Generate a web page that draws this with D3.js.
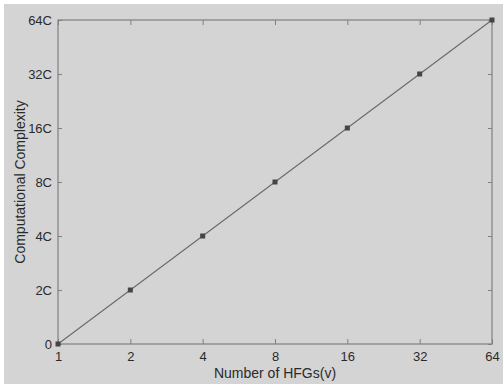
<!DOCTYPE html>
<html>
<head>
<meta charset="utf-8">
<script src="https://cdn.jsdelivr.net/npm/d3@7"></script>
<style>
  body { margin: 0; background: #fff; }
  text { font-family: "Liberation Sans", Arial, sans-serif; fill: #2a2a2a; }
</style>
</head>
<body>
<div id="chart"></div>
<script>
// data
const hfgs = [1, 2, 4, 8, 16, 32, 64];
const complexity = [0, 2, 4, 8, 16, 32, 64]; // multiples of C
const xTicks = [1, 2, 4, 8, 16, 32, 64];
const yTicks = [0, 2, 4, 8, 16, 32, 64];
const yTickLabels = ["0", "2C", "4C", "8C", "16C", "32C", "64C"];

const width = 503, height = 384;
const margin = { top: 20, right: 11, bottom: 40, left: 58 };

const svg = d3.select("#chart").append("svg")
  .attr("width", width)
  .attr("height", height);

// grey figure background with thin white strip top/left
svg.append("rect")
  .attr("x", 4).attr("y", 4)
  .attr("width", width - 4).attr("height", height - 4)
  .attr("fill", "#d4d4d4");

const xScale = d3.scaleLog().base(2)
  .domain([1, 64])
  .range([margin.left, width - margin.right]);

const yScale = d3.scalePoint()
  .domain(yTicks)
  .range([height - margin.bottom, margin.top]);

const x0 = margin.left, x1 = width - margin.right;
const y0 = height - margin.bottom, y1 = margin.top;
const axisColor = "#808080";

// box
svg.append("rect")
  .attr("x", x0).attr("y", y1)
  .attr("width", x1 - x0).attr("height", y0 - y1)
  .attr("fill", "none")
  .attr("stroke", axisColor)
  .attr("stroke-width", 1.2);

function styleAxis(g) {
  g.select(".domain").remove();
  g.selectAll(".tick line").attr("stroke", axisColor);
  g.selectAll(".tick text").attr("font-size", 13).attr("fill", "#2a2a2a");
}

// bottom axis (ticks point inward)
svg.append("g")
  .attr("transform", `translate(0, ${y0})`)
  .call(d3.axisBottom(xScale).tickValues(xTicks).tickFormat(d3.format("d"))
    .tickSizeInner(-5).tickSizeOuter(0).tickPadding(8))
  .call(styleAxis);

// top axis mirror ticks
svg.append("g")
  .attr("transform", `translate(0, ${y1})`)
  .call(d3.axisTop(xScale).tickValues(xTicks).tickFormat("")
    .tickSizeInner(-5).tickSizeOuter(0))
  .call(styleAxis);

// left axis
svg.append("g")
  .attr("transform", `translate(${x0}, 0)`)
  .call(d3.axisLeft(yScale).tickFormat((d, i) => yTickLabels[i])
    .tickSizeInner(-4).tickSizeOuter(0).tickPadding(6))
  .call(styleAxis);

// right axis mirror ticks
svg.append("g")
  .attr("transform", `translate(${x1}, 0)`)
  .call(d3.axisRight(yScale).tickFormat("")
    .tickSizeInner(-4).tickSizeOuter(0))
  .call(styleAxis);

const points = hfgs.map((h, i) => ({ x: h, y: complexity[i] }));

svg.append("path")
  .datum(points)
  .attr("fill", "none")
  .attr("stroke", "#6a6a6a")
  .attr("stroke-width", 1.1)
  .attr("d", d3.line().x(d => xScale(d.x)).y(d => yScale(d.y)));

svg.selectAll(".marker")
  .data(points)
  .join("rect")
  .attr("class", "marker")
  .attr("x", d => xScale(d.x) - 2.5)
  .attr("y", d => yScale(d.y) - 2.5)
  .attr("width", 5)
  .attr("height", 5)
  .attr("fill", "#454545");

// axis titles
svg.append("text")
  .attr("x", (x0 + x1) / 2)
  .attr("y", 378)
  .attr("text-anchor", "middle")
  .attr("font-size", 14)
  .text("Number of HFGs(v)");

svg.append("text")
  .attr("transform", `translate(25, ${(y0 + y1) / 2}) rotate(-90)`)
  .attr("text-anchor", "middle")
  .attr("font-size", 14)
  .text("Computational Complexity");
</script>
</body>
</html>
